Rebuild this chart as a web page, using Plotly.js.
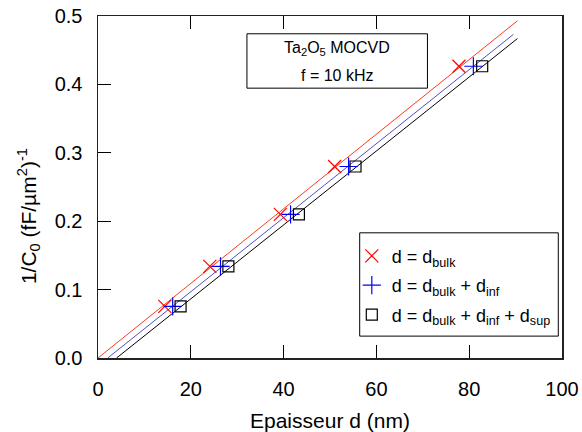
<!DOCTYPE html>
<html>
<head>
<meta charset="utf-8">
<script src="https://cdn.plot.ly/plotly-3.0.1.min.js"></script>
<style>html,body{margin:0;padding:0;background:#fff;}#chart{width:582px;height:432px;}</style>
</head>
<body>
<div id="chart"></div>
<script>
// Thickness (nm) for the three definitions of d
var xBulk = [14.4, 24.1, 39.3, 51.0, 77.8];
var xInf  = [16.1, 26.4, 41.5, 54.0, 80.9];
var xSup  = [17.8, 28.1, 43.3, 55.5, 82.8];
// 1/C0 (fF/um^2)^-1
var invC  = [0.0755, 0.134, 0.210, 0.280, 0.4265];

// Fitted straight lines (end points)
var fitBulkX = [0, 90.4];  var fitBulkY = [0, 0.493];
var fitInfX  = [2.1, 89.5]; var fitInfY  = [0, 0.473];
var fitSupX  = [4.0, 90.4]; var fitSupY  = [0, 0.467];

var seriesNames = ['d = d<sub>bulk</sub>',
                   'd = d<sub>bulk</sub> + d<sub>inf</sub>',
                   'd = d<sub>bulk</sub> + d<sub>inf</sub> + d<sub>sup</sub>'];
var xTicks = [0, 20, 40, 60, 80, 100];
var yTicks = [0, 0.1, 0.2, 0.3, 0.4, 0.5];
var yTickText = ['0.0', '0.1', '0.2', '0.3', '0.4', '0.5'];

var FONT = 'Liberation Sans, Arial, sans-serif';

var traces = [
  {x: fitBulkX, y: fitBulkY, mode: 'lines', line: {color: '#ff3a1a', width: 1}, showlegend: false, hoverinfo: 'skip'},
  {x: fitInfX, y: fitInfY, mode: 'lines', line: {color: '#5050c0', width: 1}, showlegend: false, hoverinfo: 'skip'},
  {x: fitSupX, y: fitSupY, mode: 'lines', line: {color: '#000000', width: 1}, showlegend: false, hoverinfo: 'skip'},
  {x: xBulk, y: invC, mode: 'markers', name: seriesNames[0], legendgroup: 'a',
   marker: {symbol: 'x-thin-open', size: 13, color: '#ff0000', line: {color: '#ff0000', width: 1.2}}},
  {x: xInf, y: invC, mode: 'markers', name: seriesNames[1], legendgroup: 'b',
   marker: {symbol: 'cross-thin-open', size: 13, color: '#0000ff', line: {color: '#0000ff', width: 1.2}}},
  {x: xSup, y: invC, mode: 'markers', name: seriesNames[2], legendgroup: 'c',
   marker: {symbol: 'square-open', size: 11, color: '#000000', line: {color: '#000000', width: 1.2}}}
];

var layout = {
  width: 582, height: 432,
  margin: {l: 98, r: 20, t: 16, b: 74},
  paper_bgcolor: '#ffffff', plot_bgcolor: '#ffffff',
  font: {family: FONT, color: '#000', size: 20},
  showlegend: true,
  legend: {x: 0.547, y: 0.352, xanchor: 'left', yanchor: 'top',
           bgcolor: 'rgba(0,0,0,0)', borderwidth: 0, font: {family: FONT, size: 18, color: '#000'},
           tracegroupgap: 3, traceorder: 'grouped'},
  xaxis: {range: [0, 100], tickvals: xTicks, ticks: 'inside', ticklen: 13, tickwidth: 1.3, tickcolor: '#000',
          showline: true, linecolor: '#222', linewidth: 1.5, mirror: 'ticks', showgrid: false, zeroline: false,
          ticklabelstandoff: 12, tickfont: {family: FONT, size: 20}},
  yaxis: {range: [0, 0.5], tickvals: yTicks, ticktext: yTickText, ticks: 'inside', ticklen: 13, tickwidth: 1.3, tickcolor: '#000',
          showline: true, linecolor: '#222', linewidth: 1.5, mirror: true, showgrid: false, zeroline: false,
          ticklabelstandoff: 10, tickfont: {family: FONT, size: 20}},
  shapes: [
    {type: 'rect', xref: 'paper', yref: 'paper', x0: 0.564, x1: 0.992, y0: 0.064, y1: 0.366,
     line: {color: '#000', width: 1}, fillcolor: 'rgba(0,0,0,0)'},
    {type: 'rect', xref: 'paper', yref: 'paper', x0: 0.321, x1: 0.710, y0: 0.789, y1: 0.948,
     line: {color: '#000', width: 1}, fillcolor: 'rgba(0,0,0,0)'}
  ],
  annotations: [
    {text: 'Ta<sub>2</sub>O<sub>5</sub> MOCVD', xref: 'paper', yref: 'paper', x: 0.515, y: 0.906,
     xanchor: 'center', yanchor: 'middle', showarrow: false, font: {family: FONT, size: 16, color: '#000'}},
    {text: 'f = 10 kHz', xref: 'paper', yref: 'paper', x: 0.515, y: 0.825,
     xanchor: 'center', yanchor: 'middle', showarrow: false, font: {family: FONT, size: 16, color: '#000'}},
    {text: 'Epaisseur d (nm)', xref: 'paper', yref: 'paper', x: 0.5, y: 0, yshift: -62,
     xanchor: 'center', yanchor: 'middle', showarrow: false, font: {family: FONT, size: 21, color: '#000'}},
    {text: '1/C<sub>0</sub> (fF/µm<sup>2</sup>)<sup>-1</sup>', xref: 'paper', yref: 'paper', x: 0, xshift: -70, y: 0.415,
     xanchor: 'center', yanchor: 'middle', textangle: -90, showarrow: false, font: {family: FONT, size: 21, color: '#000'}}
  ]
};

Plotly.newPlot('chart', traces, layout, {displayModeBar: false, staticPlot: true});
</script>
</body>
</html>
